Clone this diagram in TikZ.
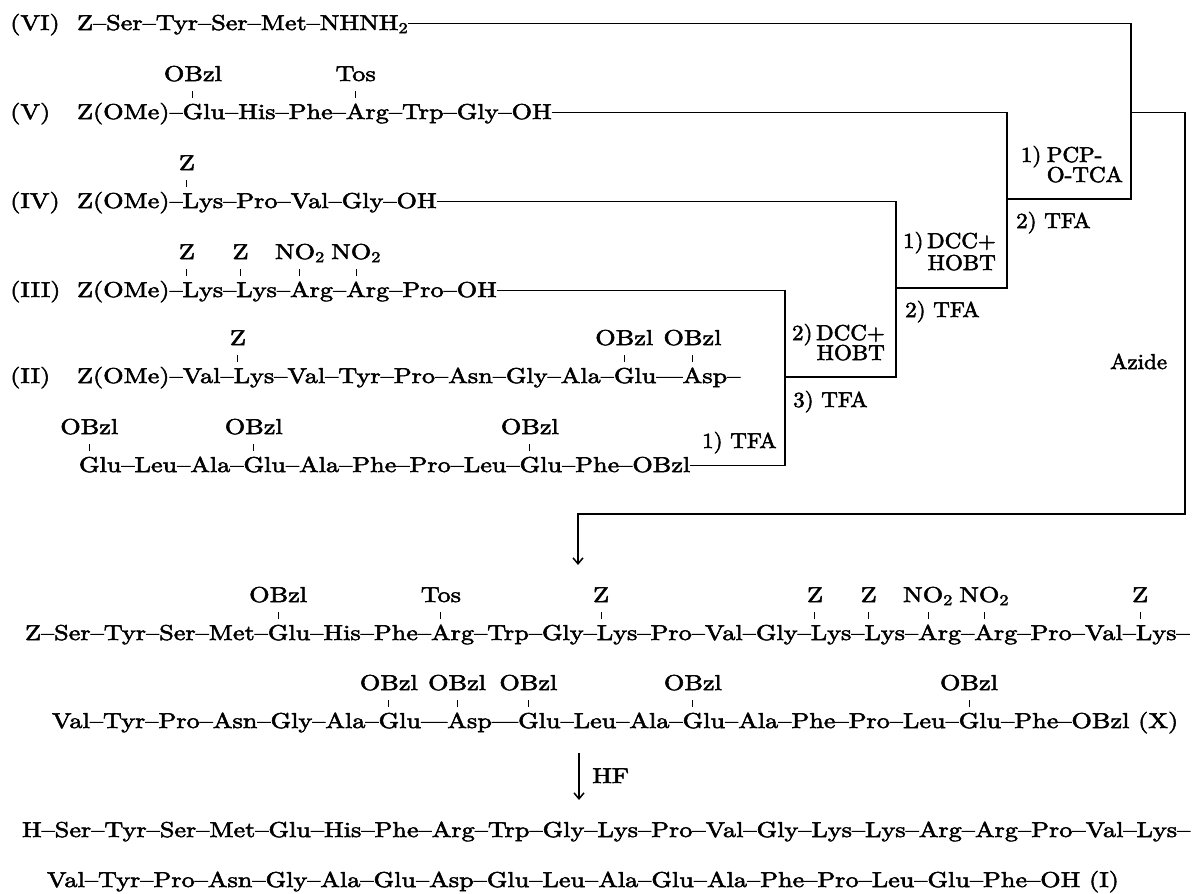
\documentclass[tikz,border=0pt]{standalone}
\usepackage{fontspec}
\setmainfont{lmroman10-regular.otf}[FakeStretch=1.22,FakeBold=2.5]
\newfontfamily\labfont{lmroman10-regular.otf}[FakeStretch=1.07,FakeBold=2.5]
\usetikzlibrary{arrows.meta}
\newcommand{\pcs}[3]{\node[piece] (#1) at (#2.base east) {#3};}
\newcommand{\subgrp}[3]{\node[subtxt] (#1) at ([yshift=38pt]#2.base) {#3};
  \draw[tickln] ([yshift=21pt]#2.base) -- ([yshift=28pt]#2.base);}
\newcommand{\subgrpL}[3]{\node[subtxt] (#1) at ([xshift=-4pt,yshift=38pt]#2.base) {#3};
  \draw[tickln] ([xshift=-4pt,yshift=21pt]#2.base) -- ([xshift=-4pt,yshift=28pt]#2.base);}
\begin{document}
\begin{tikzpicture}[x=1pt,y=-1pt,
  font=\fontsize{21.5}{24}\selectfont,
  piece/.style={anchor=base west,inner sep=0pt,outer sep=0pt},
  subtxt/.style={anchor=base,inner sep=0pt},
  lab/.style={anchor=base west,inner sep=0pt},
  rlab/.style={anchor=base west,inner sep=0pt,font=\labfont\fontsize{21.5}{24}\selectfont},
  rlabr/.style={rlab,anchor=base east},
  tickln/.style={line width=1pt},
  conn/.style={line width=1.5pt},
  arr/.style={conn,-{Straight Barb[length=6pt,width=10pt]}}]
\fill[white] (0,0) rectangle (1200,894);
\useasboundingbox (0,0) rectangle (1200,894);

% column coordinates
\coordinate (xPCP) at (1131,0);
\coordinate (xV) at (1007,0);
\coordinate (xIV) at (896,0);
\coordinate (xIII) at (785,0);
\coordinate (xR) at (1185,0);
\coordinate (yPCP) at (0,199);
\coordinate (yV) at (0,288);
\coordinate (yIV) at (0,377);
\coordinate (yAz) at (0,514);
\coordinate (tipA) at (578,565);

% (VI)
\node[lab] (lVI) at (10,30) {(VI)};
\node[piece] (c6) at (77,30) {Z--Ser--Tyr--Ser--Met--NHNH\textsubscript{2}};
\coordinate (e6) at ([yshift=6.5pt]c6.base east);

% (V)
\node[lab] (lV) at (10,119) {(V)};
\node[piece] (v0) at (77,119) {Z(OMe)--};
\pcs{vG}{v0}{G}
\pcs{v1}{vG}{lu--His--Phe--}
\pcs{vA}{v1}{A}
\pcs{v2}{vA}{rg--Trp--Gly--OH}
\subgrp{sV1}{vG}{OBzl}
\subgrp{sV2}{vA}{Tos}
\coordinate (e5) at ([yshift=6.5pt]v2.base east);

% (IV)
\node[lab] (lIV) at (10,208) {(IV)};
\node[piece] (w0) at (77,208) {Z(OMe)--};
\pcs{wL}{w0}{L}
\pcs{w1}{wL}{ys--Pro--Val--Gly--OH}
\subgrpL{sIV1}{wL}{Z}
\coordinate (e4) at ([yshift=6.5pt]w1.base east);

% (III)
\node[lab] (lIII) at (10,297) {(III)};
\node[piece] (t0) at (77,297) {Z(OMe)--};
\pcs{tL1}{t0}{L}
\pcs{t1}{tL1}{ys--}
\pcs{tL2}{t1}{L}
\pcs{t2}{tL2}{ys--}
\pcs{tA1}{t2}{A}
\pcs{t3}{tA1}{rg--}
\pcs{tA2}{t3}{A}
\pcs{t4}{tA2}{rg--Pro--OH}
\subgrpL{sIII1}{tL1}{Z}
\subgrpL{sIII2}{tL2}{Z}
\subgrp{sIII3}{tA1}{NO\textsubscript{2}}
\subgrp{sIII4}{tA2}{NO\textsubscript{2}}
\coordinate (e3) at ([yshift=6.5pt]t4.base east);

% (II)
\node[lab] (lII) at (10,383) {(II)};
\node[piece] (u0) at (77,383) {Z(OMe)--Val--};
\pcs{uL}{u0}{L}
\pcs{u1}{uL}{ys--Val--Tyr--Pro--Asn--Gly--Ala--}
\pcs{uG}{u1}{G}
\pcs{u2}{uG}{lu---}
\pcs{uA}{u2}{A}
\pcs{u3}{uA}{sp--}
\subgrpL{sII1}{uL}{Z}
\subgrp{sII2}{uG}{OBzl}
\subgrp{sII3}{uA}{OBzl}

% second line of (II)
\node[piece] (g0) at (79,472) {G};
\pcs{g1}{g0}{lu--Leu--Ala--}
\pcs{gG2}{g1}{G}
\pcs{g2}{gG2}{lu--Ala--Phe--Pro--Leu--}
\pcs{gG3}{g2}{G}
\pcs{g3}{gG3}{lu--Phe--OBzl}
\subgrp{sG1}{g0}{OBzl}
\subgrp{sG2}{gG2}{OBzl}
\subgrp{sG3}{gG3}{OBzl}
\coordinate (eGL) at ([yshift=6.5pt]g3.base east);

% reagent labels
\node[rlabr] (pcp2) at (1123,182) {O-TCA};
\node[rlab] (pcp1) at ([yshift=20pt]pcp2.base west) {PCP-};
\node[rlabr] (pcp0) at ([xshift=-5pt]pcp1.base west) {1)};
\node[rlab] (tfa1) at (1016,228) {2) TFA};
\node[rlabr] (dcc1a) at (996,248) {1)\,DCC+};
\node[rlabr] (dcc1b) at (996,270) {HOBT};
\node[rlab] (tfa2) at (905,317) {2) TFA};
\node[rlabr] (dcc2a) at (885,340) {2)\,DCC+};
\node[rlabr] (dcc2b) at (885,360) {HOBT};
\node[rlab] (tfa3) at (793,407) {3) TFA};
\node[rlab] (tfa4) at (702,448) {1) TFA};
\node[rlab] (az) at (1110,369) {Azide};

% bracket connectors
\draw[conn] (e6) -| (xPCP |- yPCP) -- (xV |- yPCP);
\draw[conn] (e5) -| (xV |- yV) -- (xIV |- yV);
\draw[conn] (e4) -| (xIV |- yIV) -- (xIII |- yIV);
\draw[conn] (e3) -| (xIII |- eGL) -- (eGL);
\draw[arr] (xPCP |- e5) -| (xR |- yAz) -| (tipA);

% (X)
\node[piece] (x0) at (25,640) {Z--Ser--Tyr--Ser--Met--};
\pcs{xG}{x0}{G}
\pcs{x1}{xG}{lu--His--Phe--}
\pcs{xA}{x1}{A}
\pcs{x2}{xA}{rg--Trp--Gly--}
\pcs{xL1}{x2}{L}
\pcs{x3}{xL1}{ys--Pro--Val--Gly--}
\pcs{xL2}{x3}{L}
\pcs{x4}{xL2}{ys--}
\pcs{xL3}{x4}{L}
\pcs{x5}{xL3}{ys--}
\pcs{xA2}{x5}{A}
\pcs{x6}{xA2}{rg--}
\pcs{xA3}{x6}{A}
\pcs{x7}{xA3}{rg--Pro--Val--}
\pcs{xL4}{x7}{L}
\pcs{x8}{xL4}{ys--}
\subgrp{sX1}{xG}{OBzl}
\subgrp{sX2}{xA}{Tos}
\subgrpL{sX3}{xL1}{Z}
\subgrpL{sX4}{xL2}{Z}
\subgrpL{sX5}{xL3}{Z}
\subgrp{sX6}{xA2}{NO\textsubscript{2}}
\subgrp{sX7}{xA3}{NO\textsubscript{2}}
\subgrpL{sX8}{xL4}{Z}

\node[piece] (y0) at (52,728) {Val--Tyr--Pro--Asn--Gly--Ala--};
\pcs{yG1}{y0}{G}
\pcs{y1}{yG1}{lu---}
\pcs{yA}{y1}{A}
\pcs{y2}{yA}{sp---}
\pcs{yG2}{y2}{G}
\pcs{y3}{yG2}{lu--Leu--Ala--}
\pcs{yG3}{y3}{G}
\pcs{y4}{yG3}{lu--Ala--Phe--Pro--Leu--}
\pcs{yG4}{y4}{G}
\pcs{y5}{yG4}{lu--Phe--OBzl (X)}
\subgrp{sY1}{yG1}{OBzl}
\subgrp{sY2}{yA}{OBzl}
\subgrp{sY3}{yG2}{OBzl}
\subgrp{sY4}{yG3}{OBzl}
\subgrp{sY5}{yG4}{OBzl}

% HF step
\coordinate (hfTop) at (579,753);
\coordinate (hfBot) at (579,800);
\draw[arr] (hfTop) -- (hfBot);
\node[lab] (hf) at (592,783) {HF};

% (I)
\node[piece] (p1) at (22,837) {H--Ser--Tyr--Ser--Met--Glu--His--Phe--Arg--Trp--Gly--Lys--Pro--Val--Gly--Lys--Lys--Arg--Arg--Pro--Val--Lys--};
\node[piece] (p2) at (47,887) {Val--Tyr--Pro--Asn--Gly--Ala--Glu--Asp--Glu--Leu--Ala--Glu--Ala--Phe--Pro--Leu--Glu--Phe--OH (I)};
\end{tikzpicture}
\end{document}
